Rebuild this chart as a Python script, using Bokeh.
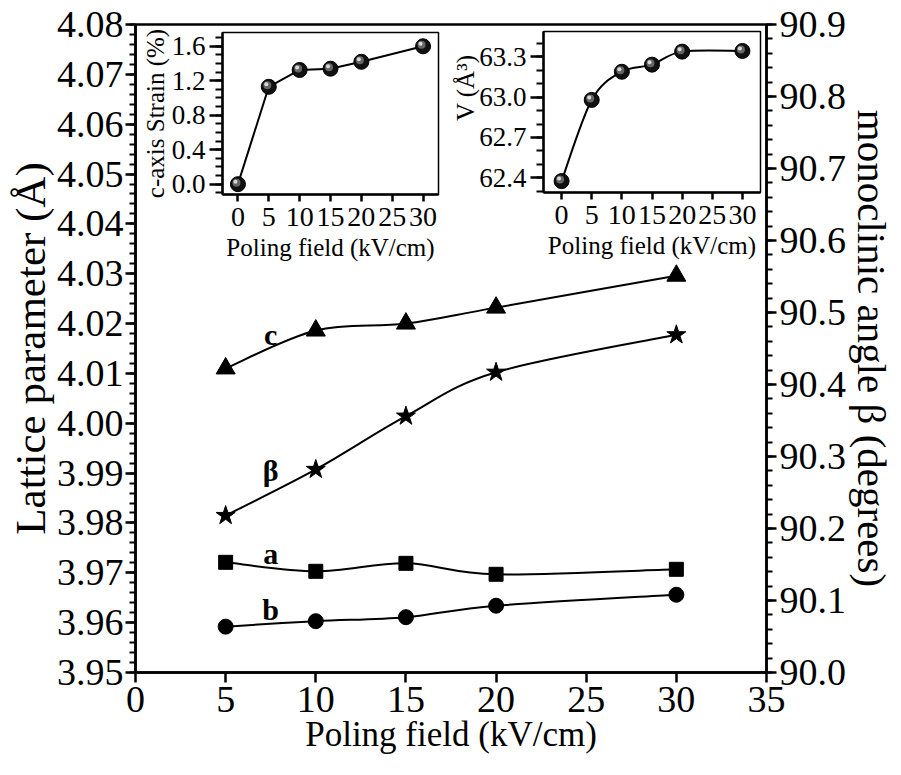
import numpy as np
from bokeh.plotting import figure
from bokeh.models import Range1d, LinearAxis, FixedTicker, NumeralTickFormatter, ColumnDataSource
from bokeh.transform import dodge
from bokeh.embed import file_html
from bokeh.resources import INLINE
from bokeh.core.properties import value

# ---------------- data ----------------
field = [5, 10, 15, 20, 30]
lat_a = [3.9721, 3.9703, 3.9719, 3.9697, 3.9707]
lat_b = [3.9592, 3.9603, 3.9611, 3.9634, 3.9656]
lat_c = [4.0110, 4.0186, 4.0200, 4.0232, 4.0296]
beta = [90.218, 90.282, 90.356, 90.417, 90.469]

inset_field = [0, 5, 10, 15, 20, 30]
strain = [0.0, 1.13, 1.325, 1.34, 1.42, 1.60]
volume = [62.375, 62.98, 63.19, 63.243, 63.34, 63.345]

x_ticks = [0, 5, 10, 15, 20, 25, 30, 35]
lat_ticks = [3.95, 3.96, 3.97, 3.98, 3.99, 4.00, 4.01, 4.02, 4.03, 4.04, 4.05, 4.06, 4.07, 4.08]
beta_ticks = [90.0, 90.1, 90.2, 90.3, 90.4, 90.5, 90.6, 90.7, 90.8, 90.9]
inset_x_ticks = [0, 5, 10, 15, 20, 25, 30]
strain_ticks = [0.0, 0.4, 0.8, 1.2, 1.6]
vol_ticks = [62.4, 62.7, 63.0, 63.3]

series_names = ["c", "β", "a", "b"]
name_x = [7.5, 7.5, 7.5, 7.5]
name_y = [4.0178, 3.9905, 3.9738, 3.9627]

vol_label = ["V (Å³)"]
vol_label_x = [-16.0]
vol_label_y = [63.07]

FONT = "Liberation Serif"

# ---------------- layout helpers ----------------
FL, FR, FT, FB = 135, 766, 24, 672
W, H = 901, 775


def xr(l, r, d0, d1):
    u = (d1 - d0) / (r - l)
    s = d0 - (l - FL) * u
    return Range1d(s, s + (FR - FL) * u)


def yr(t, b, top, bot):
    u = (top - bot) / (b - t)
    s = bot - (FB - b) * u
    return Range1d(s, s + (FB - FT) * u)


def bez(xs, ys):
    xs = np.asarray(xs, float)
    ys = np.asarray(ys, float)
    px = np.concatenate([[xs[0]], xs, [xs[-1]]])
    py = np.concatenate([[ys[0]], ys, [ys[-1]]])
    d = dict(x0=[], y0=[], x1=[], y1=[], cx0=[], cy0=[], cx1=[], cy1=[])
    for i in range(len(xs) - 1):
        d["x0"].append(px[i + 1]); d["y0"].append(py[i + 1])
        d["x1"].append(px[i + 2]); d["y1"].append(py[i + 2])
        d["cx0"].append(px[i + 1] + (px[i + 2] - px[i]) / 6)
        d["cy0"].append(py[i + 1] + (py[i + 2] - py[i]) / 6)
        d["cx1"].append(px[i + 2] - (px[i + 3] - px[i + 1]) / 6)
        d["cy1"].append(py[i + 2] - (py[i + 3] - py[i + 1]) / 6)
    return ColumnDataSource(d)


p = figure(width=W, height=H, x_range=Range1d(0, 35), y_range=Range1d(3.95, 4.08),
           output_backend="svg", toolbar_location=None,
           min_border_left=FL, min_border_right=W - FR, min_border_top=FT, min_border_bottom=H - FB)
p.xgrid.grid_line_color = None
p.ygrid.grid_line_color = None
p.outline_line_color = "black"
p.outline_line_width = 2.5
p.background_fill_color = "white"

X1 = (-2.5, 32.5); Y1 = (-0.12, 1.76)
X2 = (-3.0, 33.0); Y2 = (62.29, 63.49)
p.extra_y_ranges = {"beta": Range1d(90.0, 90.9),
                    "y1": yr(32, 194, Y1[1], Y1[0]),
                    "y2": yr(31, 192, Y2[1], Y2[0])}
p.extra_x_ranges = {"x1": xr(222, 438, X1[0], X1[1]),
                    "x2": xr(543, 760, X2[0], X2[1])}


def style(ax, lab=38, tit=35, lw=2.5, mo=10, mi=6):
    ax.axis_line_width = lw
    ax.axis_line_color = "black"
    ax.major_tick_line_width = lw
    ax.minor_tick_line_width = max(lw - 0.5, 1)
    ax.major_tick_out = mo
    ax.major_tick_in = 0
    ax.minor_tick_out = mi
    ax.minor_tick_in = 0
    ax.major_label_text_font = FONT
    ax.major_label_text_font_size = f"{lab}px"
    ax.major_label_text_color = "black"
    ax.axis_label_text_font = FONT
    ax.axis_label_text_font_size = f"{tit}px"
    ax.axis_label_text_font_style = "normal"
    ax.axis_label_text_color = "black"


xa = p.xaxis[0]
xa.ticker = FixedTicker(ticks=x_ticks)
xa.axis_label = "Poling field (kV/cm)"
style(xa, lab=38, tit=35)
xa.minor_tick_out = 0
xa.major_label_standoff = 4
xa.axis_label_standoff = 0

ya = p.yaxis[0]
ya.ticker = FixedTicker(ticks=lat_ticks,
                        minor_ticks=[round(3.95 + 0.002 * i, 4) for i in range(66)])
ya.formatter = NumeralTickFormatter(format="0.00")
ya.axis_label = "Lattice parameter (Å)"
style(ya, lab=38, tit=43)
ya.major_label_standoff = 2
ya.axis_label_standoff = 0

ra = LinearAxis(y_range_name="beta",
                ticker=FixedTicker(ticks=beta_ticks,
                                   minor_ticks=[round(90.0 + 0.02 * i, 3) for i in range(46)]),
                formatter=NumeralTickFormatter(format="0.0"),
                axis_label="monoclinic angle β (degrees)")
style(ra, lab=38, tit=41)
ra.major_label_standoff = 3
ra.axis_label_standoff = 0
p.add_layout(ra, "right")

# ---------------- main series ----------------
LW = 2
p.bezier(x0="x0", y0="y0", x1="x1", y1="y1", cx0="cx0", cy0="cy0", cx1="cx1", cy1="cy1",
         source=bez(field, lat_c), line_color="black", line_width=LW)
p.bezier(x0="x0", y0="y0", x1="x1", y1="y1", cx0="cx0", cy0="cy0", cx1="cx1", cy1="cy1",
         source=bez(field, lat_a), line_color="black", line_width=LW)
p.bezier(x0="x0", y0="y0", x1="x1", y1="y1", cx0="cx0", cy0="cy0", cx1="cx1", cy1="cy1",
         source=bez(field, lat_b), line_color="black", line_width=LW)
p.bezier(x0="x0", y0="y0", x1="x1", y1="y1", cx0="cx0", cy0="cy0", cx1="cx1", cy1="cy1",
         source=bez(field, beta), line_color="black", line_width=LW, y_range_name="beta")

p.scatter(field, lat_c, marker="triangle", size=19, fill_color="black", line_color="black")
p.scatter(field, lat_a, marker="square", size=14, fill_color="black", line_color="black")
p.scatter(field, lat_b, marker="circle", size=15, fill_color="black", line_color="black")
p.scatter(field, beta, marker="star", size=20, fill_color="black", line_color="black",
          y_range_name="beta")

p.text(x=name_x, y=name_y, text=series_names, text_font=value(FONT), text_font_style="bold",
       text_font_size="30px", text_align="center", text_baseline="middle", text_color="black")

# ---------------- insets ----------------
def inset(xn, yn, X, Y, ys, yticks, yminor, fmt, ylabel, curve):
    p.quad(left=[X[0]], right=[X[1]], bottom=[Y[0]], top=[Y[1]], x_range_name=xn, y_range_name=yn,
           fill_color="white", line_color="black", line_width=1.5)
    if curve:
        p.bezier(x0="x0", y0="y0", x1="x1", y1="y1", cx0="cx0", cy0="cy0", cx1="cx1", cy1="cy1",
                 source=bez(inset_field, ys), line_color="black", line_width=2,
                 x_range_name=xn, y_range_name=yn)
    else:
        p.line(inset_field, ys, line_color="black", line_width=2, x_range_name=xn, y_range_name=yn)
    src = ColumnDataSource(dict(x=inset_field, y=ys))
    p.scatter("x", "y", source=src, marker="circle", size=15, fill_color="#111111",
              line_color="#000000", line_width=1, x_range_name=xn, y_range_name=yn)
    ux = (X[1] - X[0]) / 216.0
    uy = (Y[1] - Y[0]) / 161.0
    p.scatter(dodge("x", -1.5 * ux, range=p.extra_x_ranges[xn]), dodge("y", 1.5 * uy, range=p.extra_y_ranges[yn]),
              source=src, marker="circle", size=8, fill_color="#666666", line_color=None,
              x_range_name=xn, y_range_name=yn)
    p.scatter(dodge("x", -2.5 * ux, range=p.extra_x_ranges[xn]), dodge("y", 2.5 * uy, range=p.extra_y_ranges[yn]),
              source=src, marker="circle", size=4, fill_color="#d8d8d8", line_color=None,
              x_range_name=xn, y_range_name=yn)

    ax = LinearAxis(x_range_name=xn, y_range_name=yn, fixed_location=Y[0], bounds=X,
                    ticker=FixedTicker(ticks=inset_x_ticks), axis_label="Poling field (kV/cm)")
    style(ax, lab=28, tit=25, lw=2.5, mo=7, mi=0)
    ax.major_label_standoff = 6
    ax.axis_label_standoff = 5
    p.add_layout(ax, "below")
    ay = LinearAxis(x_range_name=xn, y_range_name=yn, fixed_location=X[0], bounds=Y,
                    ticker=FixedTicker(ticks=yticks, minor_ticks=yminor),
                    formatter=NumeralTickFormatter(format=fmt), axis_label=ylabel)
    style(ay, lab=27, tit=25, lw=2.5, mo=13, mi=7)
    ay.major_label_standoff = 4
    ay.axis_label_standoff = 0
    p.add_layout(ay, "left")


inset("x1", "y1", X1, Y1, strain, strain_ticks, [round(-0.1 + 0.1 * i, 2) for i in range(19)],
      "0.0", "c-axis Strain (%)", False)
inset("x2", "y2", X2, Y2, volume, vol_ticks, [round(62.3 + 0.1 * i, 2) for i in range(12)],
      "0.0", None, True)

p.text(x=vol_label_x, y=vol_label_y, text=vol_label, angle=np.pi / 2, text_font=value(FONT),
       text_font_size="25px", text_align="center", text_baseline="middle", text_color="black",
       x_range_name="x2", y_range_name="y2")

open("out.html", "w").write(file_html(p, INLINE))
